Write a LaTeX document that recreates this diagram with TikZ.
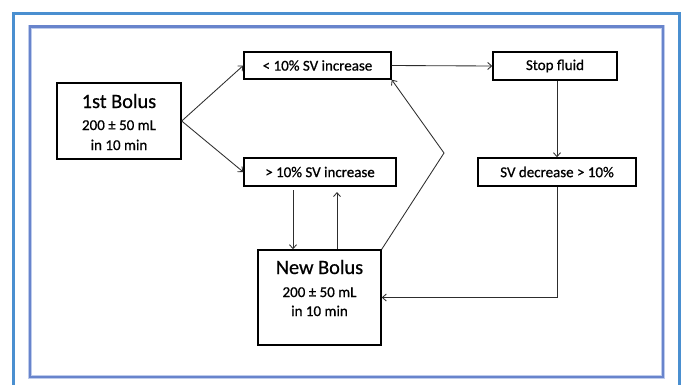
\documentclass[tikz,border=0pt]{standalone}
\usepackage{fontspec}
\setmainfont{Carlito}[RawFeature={embolden=0.7}]
\usetikzlibrary{arrows.meta,calc}
\definecolor{outerblue}{RGB}{74,143,208}
\definecolor{innerblue}{RGB}{104,132,204}
\definecolor{innerhalo}{RGB}{190,204,236}
\definecolor{conn}{RGB}{45,45,45}
\begin{document}
\begin{tikzpicture}[x=1pt,y=-1pt,
  box/.style={draw=black,line width=1.4pt,inner sep=0pt,fill=white},
  small/.style={font=\fontsize{15}{18}\selectfont},
  big/.style={font=\fontsize{20.3}{24}\selectfont},
  txt/.style={inner sep=0pt,anchor=base},
  arr/.style={draw=conn,line width=0.85pt,-{Straight Barb[length=4pt,width=7pt]}},
  ln/.style={draw=conn,line width=0.85pt}]
\useasboundingbox (0,0) rectangle (684,384);
\fill[white] (0,0) rectangle (684,384);
% frames
\draw[outerblue,line width=3pt] (13,13) rectangle (679.5,392);
\draw[innerhalo,line width=4pt] (30,26.5) rectangle (663,377);
\draw[innerblue,line width=2.2pt] (30,26.5) rectangle (663,377);
% boxes
\node[box,minimum width=124pt,minimum height=76pt] (b1) at (119,121) {};
\node[txt,big] (b1a) at (119,108) {1st Bolus};
\node[txt,small] (b1b) at (119,130) {200 ± 50 mL};
\node[txt,small] (b1c) at (119,150) {in 10 min};
\node[box,small,minimum width=147pt,minimum height=27pt] (lt) at (317.5,65.5) {< 10\% SV increase};
\node[box,small,minimum width=152pt,minimum height=28pt] (gt) at (320,172) {> 10\% SV increase};
\node[box,small,minimum width=124pt,minimum height=28pt] (sf) at (555,66) {Stop fluid};
\node[box,small,minimum width=158pt,minimum height=28pt] (sd) at (557,172) {SV decrease > 10\%};
\node[box,minimum width=123pt,minimum height=95pt] (nb) at (319.5,297.5) {};
\node[txt,big] (nba) at (319.5,274) {New Bolus};
\node[txt,small] (nbb) at (319.5,297) {200 ± 50 mL};
\node[txt,small] (nbc) at (319.5,316) {in 10 min};
% connectors
\draw[arr] (b1.east) -- (lt.west);
\draw[arr] (b1.east) -- (gt.west);
\draw[arr] (lt.east) -- (sf.west);
\draw[arr] (sd.north |- sf.south) -- (sd.north);
\draw[arr] (sd.south) |- (nb.east);
\coordinate (kink) at (444,153);
\draw[arr] (nb.north east) -- (kink) -- (lt.south east);
\coordinate (d1) at (293,190);
\draw[arr] (d1) -- (d1 |- nb.north);
\coordinate (u1) at (337,192);
\draw[arr] (u1 |- nb.north) -- (u1);
\end{tikzpicture}
\end{document}
